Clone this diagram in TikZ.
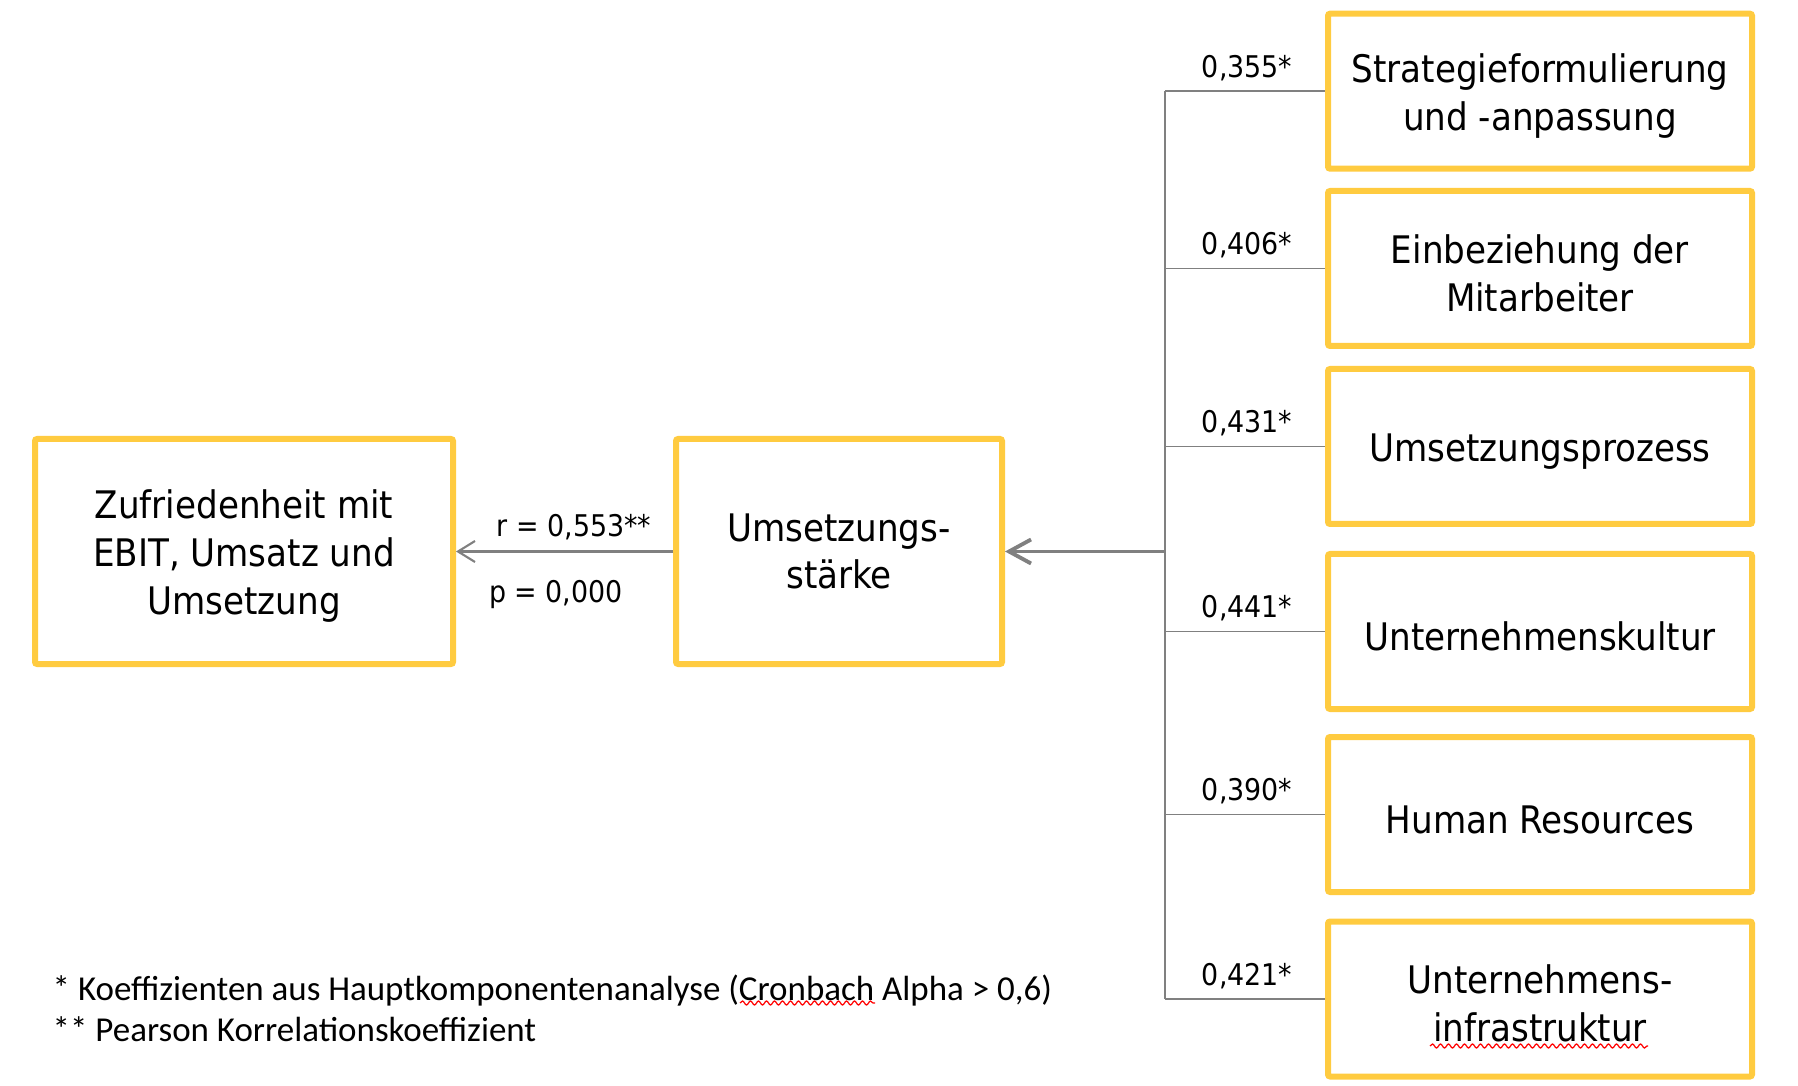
\documentclass[tikz,border=0pt]{standalone}
\usepackage{fontspec}
\setmainfont{DejaVu Sans Condensed}
\newfontfamily\notefont{Carlito}
\usetikzlibrary{arrows.meta,positioning,decorations.pathmorphing}
\definecolor{boxyellow}{RGB}{255,203,64}
\definecolor{linegray}{RGB}{128,128,128}
\newcommand{\boxstrut}{\rule{0pt}{10.8pt}}
\tikzset{
  mbox/.style={draw=boxyellow, line width=0.6mm, rounded corners=0.6pt, align=center, minimum height=2.25cm, inner sep=3pt, font=\fontsize{10.8}{13.6}\selectfont},
  kbox/.style={draw=boxyellow, line width=0.6mm, rounded corners=0.6pt, align=center, minimum width=4.24cm, minimum height=1.55cm, inner sep=3pt, font=\fontsize{10.8}{13.6}\selectfont},
  coef/.style={font=\fontsize{8.5}{10}\selectfont, inner sep=0pt, anchor=base east},
  stat/.style={font=\fontsize{8.5}{10}\selectfont, inner sep=0pt, anchor=base},
  fnote/.style={font=\notefont\fontsize{9.95}{12}\selectfont, inner sep=0pt, anchor=base west},
  tline/.style={draw=linegray, line width=0.5pt},
  darrow/.style={-{Straight Barb[length=2.2mm,width=2.4mm]}, draw=linegray, line width=1.1pt},
  sarrow/.style={-{Straight Barb[length=1.7mm,width=2.1mm]}, draw=linegray, line width=0.6pt},
  spell/.style={draw=red, line width=0.35pt, decorate, decoration={snake, amplitude=0.2mm, segment length=0.8mm}}
}

\begin{document}
\begin{tikzpicture}[x=1cm,y=1cm]
\useasboundingbox (0,0) rectangle (17.98,-10.86);

\node[mbox, minimum width=4.18cm] (zuf) at (2.44,-5.515) {\boxstrut Zufriedenheit mit\\EBIT, Umsatz und\\Umsetzung};
\node[mbox, minimum width=3.26cm] (ums) at (8.39,-5.515) {Umsetzungs-\\stärke};

\node[kbox] (k1) at (15.40,-0.912) {\boxstrut Strategieformulierung\\und -anpassung};
\node[kbox] (k2) at (15.40,-2.685) {\boxstrut Einbeziehung der\\Mitarbeiter};
\node[kbox] (k3) at (15.40,-4.465) {\boxstrut Umsetzungsprozess};
\node[kbox] (k4) at (15.40,-6.315) {\boxstrut Unternehmenskultur};
\node[kbox] (k5) at (15.40,-8.145) {\boxstrut Human Resources};
\node[kbox] (k6) at (15.40,-9.99) {\boxstrut Unternehmens-\\infrastruktur};

\coordinate (hub) at (11.65,-5.515);

% tree from the factors to the hub
\draw[tline] (hub |- k1.west) -- (hub |- k6.west);
\draw[tline] (hub |- k1.west) -- (k1.west);
\draw[tline] (hub |- k2.west) -- (k2.west);
\draw[tline] (hub |- k3.west) -- (k3.west);
\draw[tline] (hub |- k4.west) -- (k4.west);
\draw[tline] (hub |- k5.west) -- (k5.west);
\draw[tline] (hub |- k6.west) -- (k6.west);

\node[coef] (c1) at ([xshift=-0.32cm,yshift=0.14cm]k1.west) {0,355*};
\node[coef] (c2) at ([xshift=-0.32cm,yshift=0.14cm]k2.west) {0,406*};
\node[coef] (c3) at ([xshift=-0.32cm,yshift=0.14cm]k3.west) {0,431*};
\node[coef] (c4) at ([xshift=-0.32cm,yshift=0.14cm]k4.west) {0,441*};
\node[coef] (c5) at ([xshift=-0.32cm,yshift=0.14cm]k5.west) {0,390*};
\node[coef] (c6) at ([xshift=-0.32cm,yshift=0.14cm]k6.west) {0,421*};

\draw[darrow] (hub) -- (ums.east);
\draw[sarrow] (ums.west) -- (zuf.east);

\node[stat] (rval) at (5.74,-5.366) {r = 0,553**};
\node[stat] (pval) at (5.56,-6.03) {p = 0,000};

\node[fnote] (note1) at (0.52,-10.00) {* Koeffizienten aus Hauptkomponentenanalyse (Cronbach Alpha > 0,6)};
\node[fnote] (note2) at (0.52,-10.41) {** Pearson Korrelationskoeffizient};

% spell check marks
\draw[spell] (7.40,-10.03) -- (8.75,-10.03);
\draw[spell] (14.30,-10.46) -- (16.48,-10.46);
\end{tikzpicture}
\end{document}
